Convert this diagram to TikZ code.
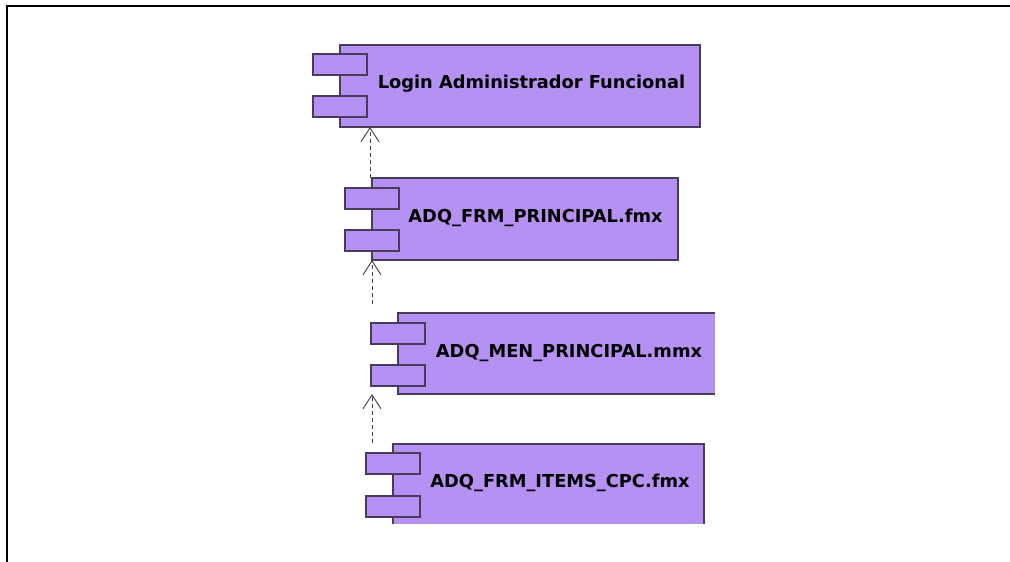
\documentclass[tikz,border=0pt]{standalone}
\usepackage{fontspec}
\setmainfont{DejaVu Sans}
\usetikzlibrary{arrows.meta}
\definecolor{compfill}{RGB}{180,145,242}
\definecolor{compline}{RGB}{72,60,90}
\begin{document}
\begin{tikzpicture}[x=1pt,y=-1pt,
  comp/.style={fill=compfill,draw=compline,line width=1.3pt,anchor=north west,inner sep=0pt,outer sep=0pt},
  compfillonly/.style={fill=compfill,draw=none,anchor=north west,inner sep=0pt,outer sep=0pt},
  edge/.style={draw=compline,line width=1.3pt},
  tab/.style={fill=compfill,draw=compline,line width=1.3pt,anchor=north west,inner sep=0pt,outer sep=0pt,minimum width=54pt,minimum height=21pt},
  lbl/.style={font=\fontsize{17.8}{20}\selectfont\bfseries,text=black,inner sep=0pt},
  dep/.style={draw=black!75,line width=0.9pt,dash pattern=on 4pt off 3pt,-{Straight Barb[length=14pt,width=18pt,line width=0.9pt]}},
  frame/.style={draw=black,line width=2.5pt}]
\useasboundingbox (0,0) rectangle (1010,562);
\draw[frame] (7,563) -- (7,6) -- (1011,6);

% Box 1
\node[comp,minimum width=360pt,minimum height=82pt] (b1) at (340,45) {};
\node[tab] (b1t1) at (313,54) {};
\node[tab] (b1t2) at (313,96) {};
\node[lbl] (l1) at (531.5,84) {Login Administrador Funcional};

% Box 2
\node[comp,minimum width=306pt,minimum height=82pt] (b2) at (372,178) {};
\node[tab] (b2t1) at (345,188) {};
\node[tab] (b2t2) at (345,230) {};
\node[lbl] (l2) at (535.5,218) {ADQ\_FRM\_PRINCIPAL.fmx};

% Box 3 (clipped on the right)
\node[compfillonly,minimum width=317pt,minimum height=81pt] (b3) at (398,313) {};
\draw[edge] (b3.north east) -- (b3.north west) -- (b3.south west) -- (b3.south east);
\node[tab] (b3t1) at (371,323) {};
\node[tab] (b3t2) at (371,365) {};
\node[lbl] (l3) at (569,353) {ADQ\_MEN\_PRINCIPAL.mmx};

% Box 4 (clipped at the bottom)
\node[compfillonly,minimum width=311pt,minimum height=80pt] (b4) at (393,444) {};
\draw[edge] (b4.south west) -- (b4.north west) -- (b4.north east) -- (b4.south east);
\node[tab] (b4t1) at (366,453) {};
\node[tab] (b4t2) at (366,496) {};
\node[lbl] (l4) at (560,483) {ADQ\_FRM\_ITEMS\_CPC.fmx};

% Dependencies
\coordinate (d1) at (370,178);
\coordinate (d2) at (372,304);
\coordinate (d3) at (372,443);
\draw[dep] (d1) -- (b1.south -| d1);
\draw[dep] (d2) -- (b2.south -| d2);
\draw[dep] (d3) -- (b3.south -| d3);
\end{tikzpicture}
\end{document}
